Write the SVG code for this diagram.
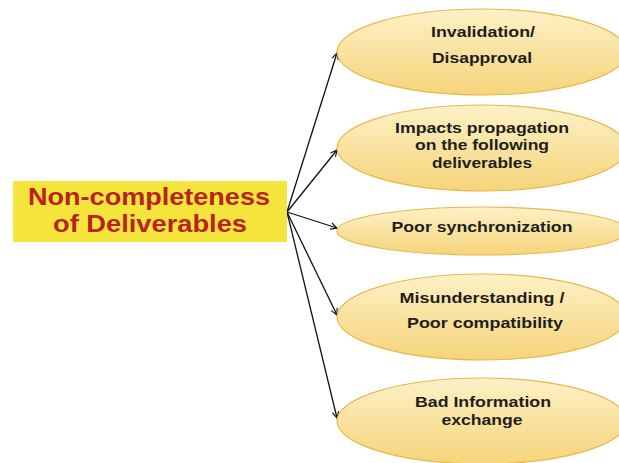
<svg xmlns="http://www.w3.org/2000/svg" width="619" height="463" viewBox="0 0 619 463">
<style>
.el{fill:url(#g);stroke:#e6b850;stroke-width:1.2}
.t{font-family:"Liberation Sans",Arial,sans-serif;font-weight:bold;font-size:15px;fill:#1e1e1e;text-anchor:middle}
.h{font-family:"Liberation Sans",Arial,sans-serif;font-weight:bold;font-size:24px;fill:#b8231c;text-anchor:middle}
.c{stroke:#111;stroke-width:1.3;fill:none;marker-end:url(#a)}
</style>
<defs>
<linearGradient id="g" x1="0" y1="0" x2="0" y2="1">
<stop offset="0" stop-color="#fdf1c6"/>
<stop offset="1" stop-color="#f6d47a"/>
</linearGradient>
<marker id="a" viewBox="0 0 10 10" refX="9" refY="5" markerWidth="8" markerHeight="8" orient="auto" markerUnits="userSpaceOnUse">
<polyline points="1,1 9,5 1,9" fill="none" stroke="#111" stroke-width="1.4"/>
</marker>
</defs>
<rect width="619" height="463" fill="#fff"/>
<g id="connectors">
<line class="c" x1="287" y1="212" x2="337" y2="53"/>
<line class="c" x1="287" y1="212" x2="337" y2="150"/>
<line class="c" x1="287" y1="212" x2="337" y2="228"/>
<line class="c" x1="287" y1="212" x2="337" y2="315"/>
<line class="c" x1="287" y1="212" x2="337" y2="418"/>
</g>
<g id="source">
<rect x="13" y="181" width="274" height="61" fill="#f5e43c"/>
<text class="h" x="149" y="205" textLength="242" lengthAdjust="spacingAndGlyphs">Non-completeness</text>
<text class="h" x="150" y="232" textLength="194" lengthAdjust="spacingAndGlyphs">of Deliverables</text>
</g>
<g id="n1">
<ellipse class="el" cx="482" cy="52" rx="145" ry="43"/>
<text class="t" x="483" y="37" textLength="104" lengthAdjust="spacingAndGlyphs">Invalidation/</text>
<text class="t" x="482" y="63" textLength="100" lengthAdjust="spacingAndGlyphs">Disapproval</text>
</g>
<g id="n2">
<ellipse class="el" cx="482" cy="148" rx="145" ry="43"/>
<text class="t" x="482" y="133" textLength="174" lengthAdjust="spacingAndGlyphs">Impacts propagation</text>
<text class="t" x="482" y="150" textLength="134" lengthAdjust="spacingAndGlyphs">on the following</text>
<text class="t" x="482" y="168" textLength="100" lengthAdjust="spacingAndGlyphs">deliverables</text>
</g>
<g id="n3">
<ellipse class="el" cx="482" cy="231" rx="145" ry="24"/>
<text class="t" x="482" y="232" textLength="181" lengthAdjust="spacingAndGlyphs">Poor synchronization</text>
</g>
<g id="n4">
<ellipse class="el" cx="482" cy="317" rx="145" ry="43"/>
<text class="t" x="482" y="303" textLength="165" lengthAdjust="spacingAndGlyphs">Misunderstanding /</text>
<text class="t" x="485" y="328" textLength="156" lengthAdjust="spacingAndGlyphs">Poor compatibility</text>
</g>
<g id="n5">
<ellipse class="el" cx="482" cy="421" rx="145" ry="43"/>
<text class="t" x="483" y="407" textLength="136" lengthAdjust="spacingAndGlyphs">Bad Information</text>
<text class="t" x="482" y="425" textLength="81" lengthAdjust="spacingAndGlyphs">exchange</text>
</g>
</svg>
